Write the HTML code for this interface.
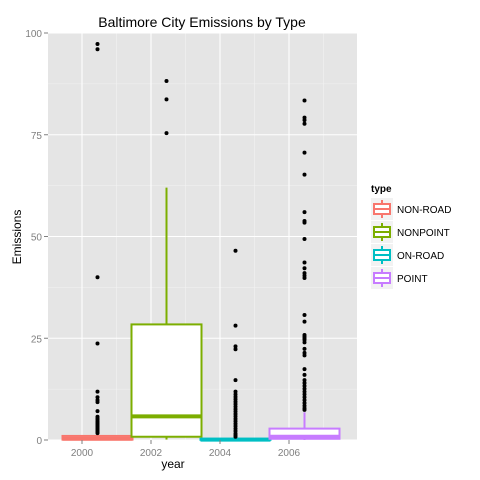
<!DOCTYPE html>
<html><head><meta charset="utf-8"><style>
body{margin:0;background:#fff;}
svg{display:block;font-family:"Liberation Sans",sans-serif;}
</style></head><body>
<svg id="chart" width="480" height="480">
<rect x="0" y="0" width="480" height="480" fill="#fff"/>
<text x="202" y="27" font-size="14" text-anchor="middle">Baltimore City Emissions by Type</text>
<rect x="48" y="33" width="309" height="407" fill="#e5e5e5"/>
<g id="grid"></g>
<g id="marks"></g>
<g id="axes"></g>
<text x="173" y="468" font-size="12" text-anchor="middle">year</text>
<text transform="translate(21,237) rotate(-90)" font-size="12" text-anchor="middle">Emissions</text>
<g id="legend">
<text x="371" y="192" font-size="10" font-weight="bold">type</text>
</g>
</svg>
<script>
const categories = ["NON-ROAD","NONPOINT","ON-ROAD","POINT"];
const years = [2000,2002,2004,2006];
const colors = ["#F8766D","#7CAE00","#00BFC4","#C77CFF"];
// [whiskerLow, q1, median, q3, whiskerHigh]
const boxStats = [
  [0, 0.1, 0.3, 1.0, 1.6],
  [0.1, 0.8, 5.8, 28.4, 62],
  [0, 0.05, 0.1, 0.3, 0.6],
  [0, 0.3, 0.8, 2.8, 6.8]
];
const outliers2000 = [97.3,96,40,23.7,11.9,10.5,9.8,9.3,7.1,5.7,5.3,5,4.6,4.3,4,3.7,3.4,3.1,2.8,2.5,2.2,1.9,1.7];
const outliers2002 = [88.2,83.7,75.4];
const outliers2004 = [46.5,28.1,23,22.3,14.7,11.9,11.2,10.6,10,9.4,8.8,8.2,7.6,7,6.4,5.8,5.2,4.6,4,3.4,2.8,2.2,1.6,1.2,0.8];
const outliers2006 = [83.4,79.2,78.6,77.7,70.6,65.2,56,53.8,53.4,49.4,43.6,42.2,41,40.4,39.8,30.7,29.1,25.8,25.4,25,24.6,24,22.4,21.4,20.8,17.4,16,14.7,14,13.3,12.6,11.9,11.2,10.5,9.8,9.1,8.4,7.8,7.4];
const outliers = [outliers2000,outliers2002,outliers2004,outliers2006];
const yTicks = [0,25,50,75,100];
const xTicks = [2000,2002,2004,2006];

const NS="http://www.w3.org/2000/svg";
const yS = v => 440 - v*4.07;
const xS = yr => 82 + (yr-2000)*34.5;
function mk(tag, attrs, parent){const e=document.createElementNS(NS,tag);for(const k in attrs)e.setAttribute(k,attrs[k]);parent.appendChild(e);return e;}
const grid=document.getElementById('grid'), marks=document.getElementById('marks'), axes=document.getElementById('axes'), legend=document.getElementById('legend');

// minor grid
for(let i=0;i<yTicks.length-1;i++){
  const y=yS((yTicks[i]+yTicks[i+1])/2);
  const l=mk('line',{x1:48,x2:357,y1:y,y2:y,stroke:'#f2f2f2','stroke-width':0.6},grid);
  
  
}
for(let yr=2001; yr<=2007; yr+=2){
  const x=xS(yr);
  const l=mk('line',{x1:x,x2:x,y1:33,y2:440,stroke:'#f2f2f2','stroke-width':0.6},grid);
  
  
}
yTicks.forEach(t=>{
  const y=yS(t);
  const l=mk('line',{x1:48,x2:357,y1:y,y2:y,stroke:'#fff','stroke-width':1.1},grid);
  
  
  const tk=mk('line',{x1:44,x2:48,y1:y,y2:y,stroke:'#7f7f7f','stroke-width':1},axes);
  
  
  const tx=mk('text',{x:42,y:y+4,'font-size':10,fill:'#7f7f7f','text-anchor':'end'},axes);
  tx.textContent=t;
  
  
});
xTicks.forEach(t=>{
  const x=xS(t);
  const l=mk('line',{x1:x,x2:x,y1:33,y2:440,stroke:'#fff','stroke-width':1.1},grid);
  
  
  const tk=mk('line',{x1:x,x2:x,y1:440,y2:444,stroke:'#7f7f7f','stroke-width':1},axes);
  
  
  const tx=mk('text',{x:x,y:456,'font-size':10,fill:'#7f7f7f','text-anchor':'middle'},axes);
  tx.textContent=t;
  
  
});

// boxes
categories.forEach((c,i)=>{
  const cx=xS(years[i])+15.5, hw=35, s=boxStats[i], col=colors[i];
  const g=mk('g',{},marks);
  
  
  mk('line',{x1:cx,x2:cx,y1:yS(s[0]),y2:yS(s[1]),stroke:col,'stroke-width':2},g);
  mk('line',{x1:cx,x2:cx,y1:yS(s[3]),y2:yS(s[4]),stroke:col,'stroke-width':2},g);
  const top=yS(s[3]), bot=yS(s[1]);
  mk('rect',{x:cx-hw,y:top,width:2*hw,height:Math.max(bot-top,0.5),fill:'#fff',stroke:col,'stroke-width':2},g);
  mk('line',{x1:cx-hw,x2:cx+hw,y1:yS(s[2]),y2:yS(s[2]),stroke:col,'stroke-width':4},g);
  outliers[i].forEach(v=>{
    const p=mk('circle',{cx:cx,cy:yS(v),r:2,fill:'#000'},g);
    
    
  });
});

// legend
categories.forEach((c,i)=>{
  const y0=198+i*23, col=colors[i];
  const g=mk('g',{},legend);
  
  
  mk('rect',{x:371,y:y0,width:22,height:22,fill:'#f2f2f2'},g);
  mk('line',{x1:382,x2:382,y1:y0+2,y2:y0+20,stroke:col,'stroke-width':2},g);
  mk('rect',{x:374,y:y0+6,width:16,height:10,fill:'#fff',stroke:col,'stroke-width':2},g);
  mk('line',{x1:374,x2:390,y1:y0+11,y2:y0+11,stroke:col,'stroke-width':2},g);
  const t=mk('text',{x:397,y:y0+15,'font-size':10},g);
  t.textContent=c;
});
</script>
</body></html>
